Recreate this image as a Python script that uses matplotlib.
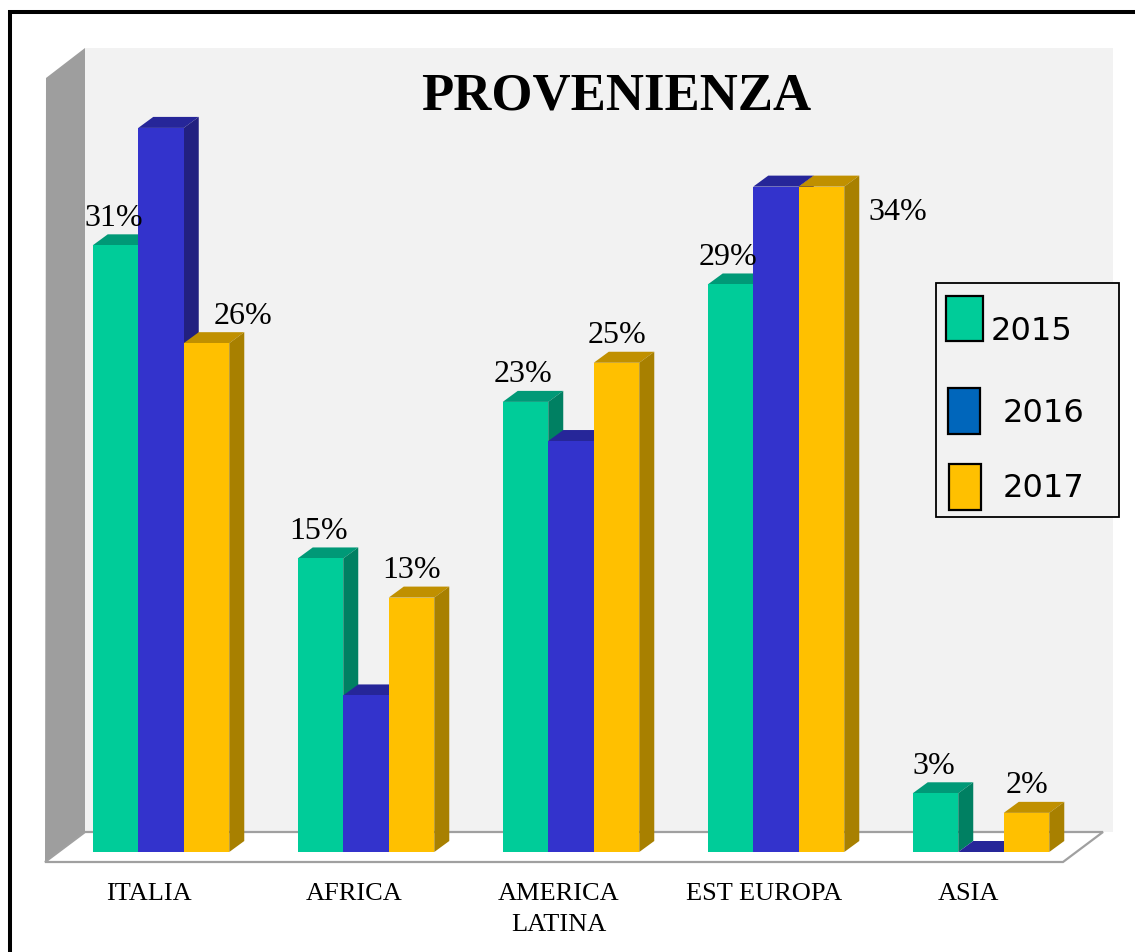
import matplotlib
matplotlib.use("Agg")
import matplotlib.pyplot as plt
from matplotlib.patches import Polygon
import numpy as np

# ---------------- data ----------------
categories = ["ITALIA", "AFRICA", "AMERICA\nLATINA", "EST EUROPA", "ASIA"]
years = ["2015", "2016", "2017"]
v2015 = [31, 15, 23, 29, 3]
v2016 = [37, 8, 21, 34, 0]
v2017 = [26, 13, 25, 34, 2]
labels2015 = ["31%", "15%", "23%", "29%", "3%"]
labels2017 = ["26%", "13%", "25%", "34%", "2%"]
title = "PROVENIENZA"

# ---------------- style ----------------
W, H = 1135, 952
fig = plt.figure(figsize=(W / 100, H / 100), dpi=100)
fig.patch.set_facecolor("white")
ax = fig.add_axes([0, 0, 1, 1])
PXX = 205.0     # pixels per category unit
PXY = 19.57     # pixels per percent
X0, Y0 = 161.0, 852.0
ax.set_xlim(-X0 / PXX, (W - X0) / PXX)
ax.set_ylim(-(H - Y0) / PXY, Y0 / PXY)
ax.axis("off")

def P(x, y):
    """pixel -> axes fraction (for decorations only)"""
    return (x / W, 1 - y / H)

def deco_poly(pts, **kw):
    ax.add_patch(Polygon([P(*p) for p in pts], closed=True,
                         transform=ax.transAxes, **kw))

# outer frame (top and left lines)
ax.plot([P(8, 12)[0], 1.0], [P(8, 12)[1]] * 2, color="black", lw=2.9,
        transform=ax.transAxes, solid_capstyle="butt", zorder=20)
ax.plot([P(10, 10)[0]] * 2, [P(10, 10)[1], 0.0], color="black", lw=2.9,
        transform=ax.transAxes, solid_capstyle="butt", zorder=20)

# back wall, side wall, floor
deco_poly([(85, 48), (1113, 48), (1113, 832), (85, 832)], facecolor="#f2f2f2",
          edgecolor="none", zorder=0)
deco_poly([(46, 78), (85, 48), (85, 832), (45, 862)], facecolor="#9e9e9e",
          edgecolor="none", zorder=1)
deco_poly([(45, 862), (85, 832), (1103, 832), (1063, 862)], facecolor="white",
          edgecolor="#a0a0a0", lw=1.6, zorder=1)

front = ["#00CC99", "#3333CC", "#FFC000"]
topc = ["#009977", "#262699", "#C09000"]
sidec = ["#008062", "#222080", "#A88000"]

bw = 0.222
dx = 15 / PXX
dy = 11 / PXY
x = np.arange(len(categories))
series = [v2015, v2016, v2017]

for k, vals in enumerate(series):
    xs = x + (k - 1) * bw
    z = 3 + 3 * k
    ax.bar(xs, vals, width=bw, color=front[k], edgecolor="none", zorder=z + 1)
    for xc, v in zip(xs, vals):
        x0, x1 = xc - bw / 2, xc + bw / 2
        ax.add_patch(Polygon([(x0, v), (x1, v), (x1 + dx, v + dy), (x0 + dx, v + dy)],
                             facecolor=topc[k], edgecolor="none", zorder=z))
        ax.add_patch(Polygon([(x1, 0), (x1, v), (x1 + dx, v + dy), (x1 + dx, dy)],
                             facecolor=sidec[k], edgecolor="none", zorder=z))

# value labels (2015 and 2017)
lab_font = dict(family="Liberation Serif", fontsize=23, color="black")
off2017 = {0: (0.18, 1.0), 3: (0.37, -1.7)}
for i in range(len(categories)):
    ax.text(x[i] - bw - 0.01, v2015[i] + 1.0, labels2015[i], ha="center",
            va="baseline", zorder=20, **lab_font)
    ox, oy = off2017.get(i, (0.0, 1.0))
    ax.text(x[i] + bw + ox, v2017[i] + oy, labels2017[i], ha="center",
            va="baseline", zorder=20, **lab_font)

# category labels
for i, c in enumerate(categories):
    for j, line in enumerate(c.split("\n")):
        ax.text(x[i] - 0.06, -(900 + 31 * j - Y0) / PXY, line, ha="center",
                va="baseline", family="Liberation Serif", fontsize=19, zorder=20)

# title
ax.text(P(616, 0)[0], P(0, 109)[1], title, transform=ax.transAxes, ha="center",
        va="baseline", family="Liberation Serif", fontweight="bold",
        fontsize=38, zorder=20)

# legend (manual)
deco_poly([(936, 283), (1119, 283), (1119, 517), (936, 517)], facecolor="#f2f2f2",
          edgecolor="black", lw=1.3, zorder=15)
leg_colors = ["#00CC99", "#0066BB", "#FFC000"]
leg_boxes = [(946, 296, 983, 341), (948, 388, 980, 434), (949, 464, 981, 510)]
leg_text = [(991, 340), (1003, 422), (1003, 497)]
for yr, col, (a, b, c2, d), (tx, ty) in zip(years, leg_colors, leg_boxes, leg_text):
    deco_poly([(a, b), (c2, b), (c2, d), (a, d)], facecolor=col, edgecolor="black",
              lw=1.6, zorder=16)
    ax.text(*P(tx, ty), yr, transform=ax.transAxes, ha="left", va="baseline",
            family="DejaVu Sans", fontsize=23, zorder=17)

fig.savefig("out.png", dpi=100)
